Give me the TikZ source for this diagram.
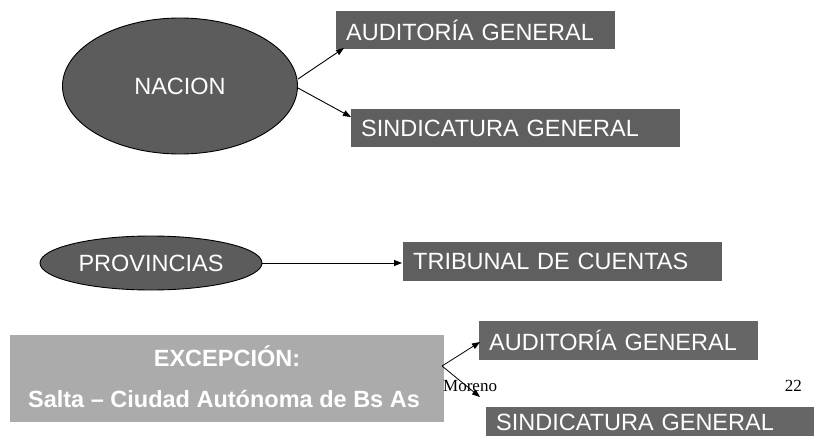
\documentclass[tikz,border=0pt]{standalone}
\usepackage{fontspec}
\setmainfont{Liberation Sans}
\newfontfamily\serifface{Liberation Serif}
\usetikzlibrary{shapes.geometric,arrows.meta}
\definecolor{darkfill}{HTML}{5C5C5C}
\definecolor{boxfill}{HTML}{5F5F5F}
\definecolor{boxfilltwo}{HTML}{666666}
\definecolor{lightfill}{HTML}{ABABAB}
\tikzset{
  oval/.style={ellipse, draw=black, line width=0.9pt, fill=darkfill, text=white, font=\fontsize{23.5}{26}\selectfont, inner sep=0pt},
  darkbox/.style={rectangle, fill=boxfill, text=white, font=\fontsize{23.5}{26}\selectfont, anchor=north west, inner xsep=10pt, inner ysep=0pt, align=left},
  conn/.style={-{Triangle[length=8pt,width=6pt]}, line width=0.9pt, black},
}
\begin{document}
\begin{tikzpicture}[x=1pt,y=-1pt]
\useasboundingbox (0,0) rectangle (814,436);
% NACION
\node[oval, minimum width=235pt, minimum height=136pt] (nacion) at (180,86) {NACION};
\node[darkbox, minimum width=279pt, minimum height=38pt, text width=259pt] (aud1) at (336,11) {AUDITORÍA GENERAL};
\node[darkbox, minimum width=329pt, minimum height=38pt, text width=309pt] (sind1) at (351,109) {SINDICATURA GENERAL};
\coordinate (n1) at (298,79);
\coordinate (n2) at (298,88);
\coordinate (a1) at (344,48);
\coordinate (s1) at (351,117);
\draw[conn] (n1) -- (a1);
\draw[conn] (n2) -- (s1);
% PROVINCIAS
\node[oval, minimum width=222pt, minimum height=54pt] (prov) at (151,263) {PROVINCIAS};
\node[darkbox, minimum width=319pt, minimum height=39pt, text width=299pt] (trib) at (403,242) {TRIBUNAL DE CUENTAS};
\coordinate (t1) at (402,263);
\draw[conn] (prov.east) -- (t1);
% EXCEPCION
\node[rectangle, fill=lightfill, anchor=north west, minimum width=434pt, minimum height=87pt, inner sep=0pt] (exc) at (10,335) {};
\node[text=white, font=\bfseries\fontsize{23.5}{26}\selectfont] (exct) at (227,356) {EXCEPCIÓN:};
\node[text=white, font=\bfseries\fontsize{23.5}{26}\selectfont] (excs) at (224,399) {Salta – Ciudad Autónoma de Bs As};
\node[darkbox, fill=boxfilltwo, minimum width=279pt, minimum height=39pt, text width=259pt] (aud2) at (479,321) {AUDITORÍA GENERAL};
\node[darkbox, fill=boxfilltwo, minimum width=329pt, minimum height=31pt, text width=309pt] (sind2) at (486,407) {SINDICATURA GENERAL};
\coordinate (e0) at (442,366);
\coordinate (a2) at (480,342);
\coordinate (s2) at (480,397);
\draw[conn, line width=0.8pt] (e0) -- (a2);
\draw[conn, line width=0.8pt] (e0) -- (s2);
% footer
\node[font=\serifface\fontsize{17}{19}\selectfont, anchor=west, inner sep=0pt] (moreno) at (443,386) {Moreno};
\node[font=\serifface\fontsize{17}{19}\selectfont, anchor=east, inner sep=0pt] (pagenum) at (802,386) {22};
\end{tikzpicture}
\end{document}
